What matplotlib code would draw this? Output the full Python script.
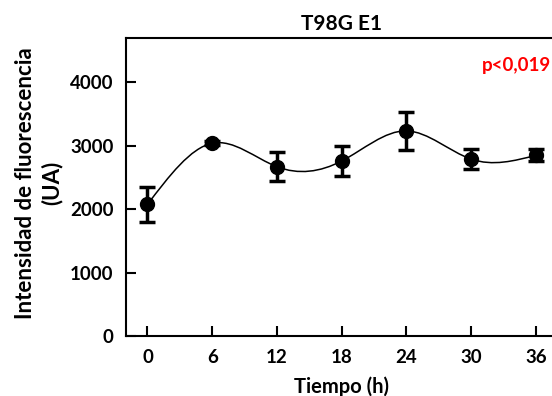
import numpy as np
from matplotlib import pyplot as plt
from matplotlib.path import Path
from matplotlib.patches import PathPatch

plt.rcParams['font.family'] = ['Lato', 'DejaVu Sans']
plt.rcParams['font.weight'] = 'bold'

tiempo = [0, 6, 12, 18, 24, 30, 36]
intensidad = [2075, 3040, 2670, 2760, 3235, 2790, 2850]
error = [270, 30, 230, 240, 305, 160, 95]
xticks = [0, 6, 12, 18, 24, 30, 36]
yticks = [0, 1000, 2000, 3000, 4000]

fig = plt.figure(figsize=(5.52, 3.96), dpi=100)
ax = fig.add_axes([0.228, 0.1515, 0.782, 0.7525])

# curva suave: pendientes de spline cubico natural -> tramos Bezier
x = np.array(tiempo, float)
y = np.array(intensidad, float)
n = len(x)
h = np.diff(x)
A = np.zeros((n, n))
b = np.zeros(n)
A[0, 0] = A[-1, -1] = 1
for i in range(1, n - 1):
    A[i, i - 1], A[i, i], A[i, i + 1] = h[i - 1], 2 * (h[i - 1] + h[i]), h[i]
    b[i] = 6 * ((y[i + 1] - y[i]) / h[i] - (y[i] - y[i - 1]) / h[i - 1])
M = np.linalg.solve(A, b)
m = np.zeros(n)
for i in range(n - 1):
    m[i] = (y[i + 1] - y[i]) / h[i] - h[i] * (2 * M[i] + M[i + 1]) / 6
m[-1] = (y[-1] - y[-2]) / h[-1] + h[-1] * (M[-2] + 2 * M[-1]) / 6

verts = [(x[0], y[0])]
codes = [Path.MOVETO]
for i in range(n - 1):
    d = h[i] / 3
    verts += [(x[i] + d, y[i] + d * m[i]), (x[i + 1] - d, y[i + 1] - d * m[i + 1]), (x[i + 1], y[i + 1])]
    codes += [Path.CURVE4] * 3
ax.add_patch(PathPatch(Path(verts, codes), facecolor='none', edgecolor='k', lw=1.1, zorder=2))

ax.errorbar(tiempo, intensidad, yerr=error, fmt='o', color='k', ms=10,
            capsize=6, capthick=2.5, elinewidth=2.5, zorder=3)

ax.set_xlim(-2, 38)
ax.set_ylim(0, 4700)
ax.set_xticks(xticks)
ax.set_yticks(yticks)
ax.tick_params(direction='in', length=7, width=1.5, labelsize=13.5, pad=9)
for s in ['left', 'bottom', 'top']:
    ax.spines[s].set_linewidth(1.5)
ax.spines['right'].set_visible(False)

ax.set_title("T98G E1", fontsize=15, fontweight='bold', pad=6)
ax.set_xlabel("Tiempo (h)", fontsize=14.5, fontweight='bold', labelpad=8)
ax.set_ylabel("Intensidad de fluorescencia\n(UA)", fontsize=16, fontweight='bold', linespacing=1.3)
ax.yaxis.set_label_coords(-0.146, 0.513)
ax.text(551, 331, "p<0,019", color='red', fontsize=13.5, fontweight='bold',
        ha='right', va='center', transform=None)

fig.savefig("out.png")
